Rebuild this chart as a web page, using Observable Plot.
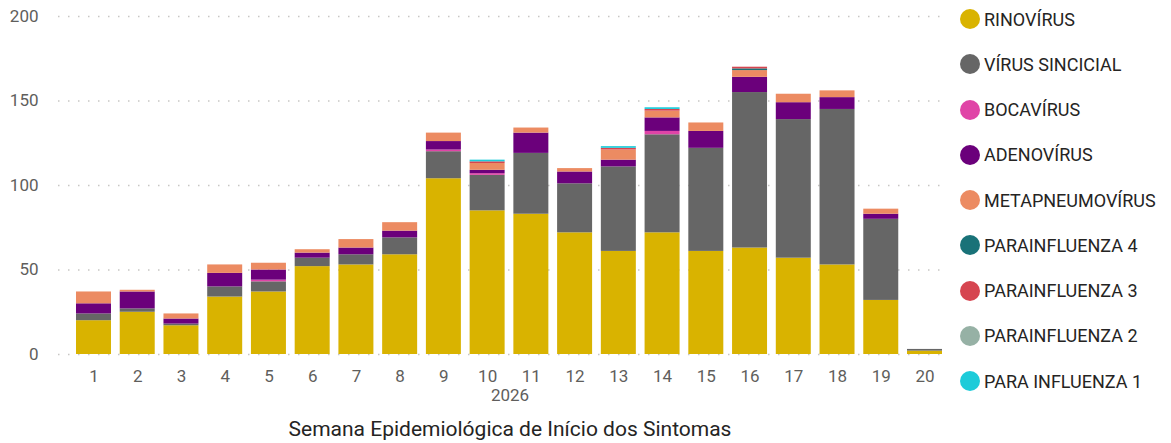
<!DOCTYPE html>
<html><head><meta charset="utf-8">
<script src="https://cdn.jsdelivr.net/npm/d3@7"></script>
<script src="https://cdn.jsdelivr.net/npm/@observablehq/plot@0.6"></script>
<style>
body{margin:0;background:#fff;font-family:Roboto, "Noto Sans", sans-serif}
#wrap{position:relative;width:1171px;height:443px;overflow:hidden}
#legend{position:absolute;left:0;top:0}
.item{position:absolute;display:flex;align-items:center;white-space:nowrap;font-size:18px;color:#252423;height:20px}
.dot{width:20px;height:20px;border-radius:50%;margin-right:4px;flex:none}
</style></head><body>
<div id="wrap"><div id="chart"></div><div id="legend"></div></div>
<script>
const weeks = ["1","2","3","4","5","6","7","8","9","10","11","12","13","14","15","16","17","18","19","20"];
const seriesNames = ["RINOVÍRUS","VÍRUS SINCICIAL","BOCAVÍRUS","ADENOVÍRUS","METAPNEUMOVÍRUS","PARAINFLUENZA 4","PARAINFLUENZA 3","PARAINFLUENZA 2","PARA INFLUENZA 1"];
const seriesColors = ["#D9B300","#666666","#E044A7","#6B007B","#EC8B62","#197278","#D64550","#96B1A5","#1DCBD9"];
const rinovirus      = [20,25,17,34,37,52,53,59,104,85,83,72,61,72,61,63,57,53,32,2];
const virusSincicial = [4,2,1,6,6,5,6,10,16,21,36,29,50,58,61,92,82,92,48,1];
const bocavirus      = [0,0,0,0,1,0,0,0,1,1,0,0,0,2,0,0,0,0,0,0];
const adenovirus     = [6,10,3,8,6,3,4,4,5,2,12,7,4,8,10,9,10,7,3,0];
const metapneumovirus= [7,1,3,5,4,2,5,5,5,4,3,2,6,4,5,4,5,4,3,0];
const parainfluenza4 = [0,0,0,0,0,0,0,0,0,0,0,0,0,0,0,1,0,0,0,0];
const parainfluenza3 = [0,0,0,0,0,0,0,0,0,1,0,0,1,1,0,1,0,0,0,0];
const parainfluenza2 = [0,0,0,0,0,0,0,0,0,0,0,0,0,0,0,0,0,0,0,0];
const parainfluenza1 = [0,0,0,0,0,0,0,0,0,1,0,0,1,1,0,0,0,0,0,0];
const yTicks = [0,50,100,150,200];
const xTitle = "Semana Epidemiológica de Início dos Sintomas";
const yearLabel = "2026";

const seriesValues = [rinovirus,virusSincicial,bocavirus,adenovirus,metapneumovirus,parainfluenza4,parainfluenza3,parainfluenza2,parainfluenza1];
const data = [];
seriesNames.forEach((s,i)=>weeks.forEach((w,j)=>{ if (seriesValues[i][j] > 0) data.push({week:w, series:s, value:seriesValues[i][j]}); }));

const chart = Plot.plot({
  width: 1171, height: 443,
  marginTop: 16, marginBottom: 89, marginLeft: 58, marginRight: 226,
  style: {fontFamily: "Roboto, sans-serif", fontSize: "17px", color: "#605E5C", background: "#fff"},
  x: {domain: weeks, round: false, paddingInner: 0.2, paddingOuter: 0.24, align: 0.857, label: null, tickSize: 0, tickPadding: 15},
  y: {domain: [0,200], ticks: yTicks, label: null, tickSize: 0, tickPadding: 20},
  color: {domain: seriesNames, range: seriesColors},
  marks: [
    Plot.ruleY(yTicks, {stroke: "#C8C6C4", strokeDasharray: "1.5,8.5", strokeWidth: 1.5}),
    Plot.barY(data, Plot.stackY({order: seriesNames}, {x: "week", y: "value", fill: "series"})),
    Plot.text([yearLabel], {frameAnchor: "bottom", dy: 46, dx: 8, fontSize: 17, fill: "#605E5C"}),
    Plot.text([xTitle], {frameAnchor: "bottom", dy: 81, dx: 8, fontSize: 21, fill: "#252423"})
  ]
});
document.getElementById("chart").appendChild(chart);

const legend = document.getElementById("legend");
seriesNames.forEach((s,i)=>{
  const it = document.createElement("div");
  it.className = "item";
  it.style.left = "960px";
  it.style.top = (19 + i*45.25 - 10) + "px";
  const d = document.createElement("span");
  d.className = "dot"; d.style.background = seriesColors[i];
  const t = document.createElement("span"); t.textContent = s;
  it.appendChild(d); it.appendChild(t);
  legend.appendChild(it);
});
</script>
</body></html>
